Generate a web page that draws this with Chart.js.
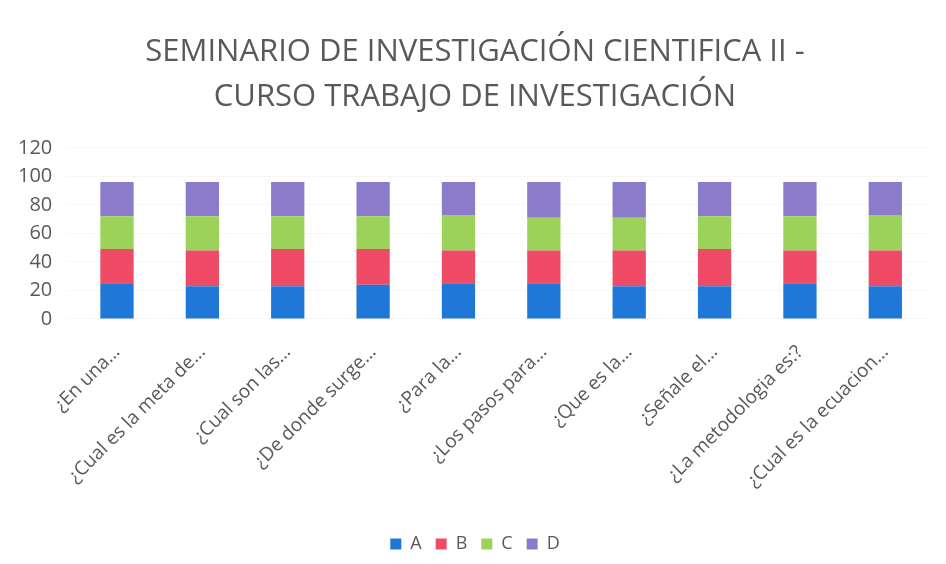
<!DOCTYPE html>
<html>
<head>
<meta charset="utf-8">
<script src="https://cdn.jsdelivr.net/npm/chart.js@4/dist/chart.umd.min.js"></script>
<style>
html,body{margin:0;padding:0;background:#fff;}
#wrap{width:946px;height:564px;position:relative;}
</style>
</head>
<body>
<div id="wrap"><canvas id="c" width="946" height="564"></canvas></div>
<script>
const categories = ["¿En una…","¿Cual es la meta de…","¿Cual son las…","¿De donde surge…","¿Para la…","¿Los pasos para…","¿Que es la…","¿Señale el…","¿La metodologia es:?","¿Cual es la ecuacion…"];
const seriesA = [25,23,23,24,25,25,23,23,25,23];
const seriesB = [24,25,26,25,23,23,25,26,23,25];
const seriesC = [23,24,23,23,25,23,23,23,24,25];
const seriesD = [24,24,24,24,23,25,25,24,24,23];
const yTicks = [0,20,40,60,80,100,120];
const titleLines = ["SEMINARIO DE INVESTIGACIÓN CIENTIFICA II -","CURSO TRABAJO DE INVESTIGACIÓN"];

const FONT = "'Open Sans', sans-serif";
const GREY = '#595959';
new Chart(document.getElementById('c'), {
  type: 'bar',
  data: {
    labels: categories,
    datasets: [
      {label:'A', data:seriesA, backgroundColor:'#1f78d8'},
      {label:'B', data:seriesB, backgroundColor:'#ef4b66'},
      {label:'C', data:seriesC, backgroundColor:'#9dd25a'},
      {label:'D', data:seriesD, backgroundColor:'#8c7bcb'}
    ]
  },
  options: {
    responsive: false,
    animation: false,
    layout: {padding: {left: 4, right: 0, top: 30, bottom: 1}},
    datasets: {bar: {barPercentage: 0.39, categoryPercentage: 1.0}},
    plugins: {
      title: {display: true, text: titleLines, color: GREY,
        font: {family: FONT, size: 31, weight: 'normal', lineHeight: 1.45}, padding: {top: 0, bottom: 28}},
      legend: {position: 'bottom', labels: {color: GREY, boxWidth: 11, boxHeight: 11, padding: 14,
        font: {family: FONT, size: 18}}},
      tooltip: {enabled: false}
    },
    scales: {
      x: {stacked: true, grid: {display: false}, border: {display: false},
        afterFit: (ax) => { ax.height += 15; },
        ticks: {color: GREY, maxRotation: 45, minRotation: 45, autoSkip: false, padding: 14, font: {family: FONT, size: 19}}},
      y: {stacked: true, min: 0, max: 120, grid: {color: '#f7f7f7'}, border: {display: false},
        afterBuildTicks: (ax) => { ax.ticks = yTicks.map(v => ({value: v})); },
        ticks: {color: GREY, padding: 14, autoSkip: false, font: {family: FONT, size: 20}}},
      yPad: {position: 'right', display: true, grid: {display: false}, border: {display: false},
        ticks: {display: false}, afterFit: (ax) => { ax.width = 18; }}
    }
  }
});
</script>
</body>
</html>
